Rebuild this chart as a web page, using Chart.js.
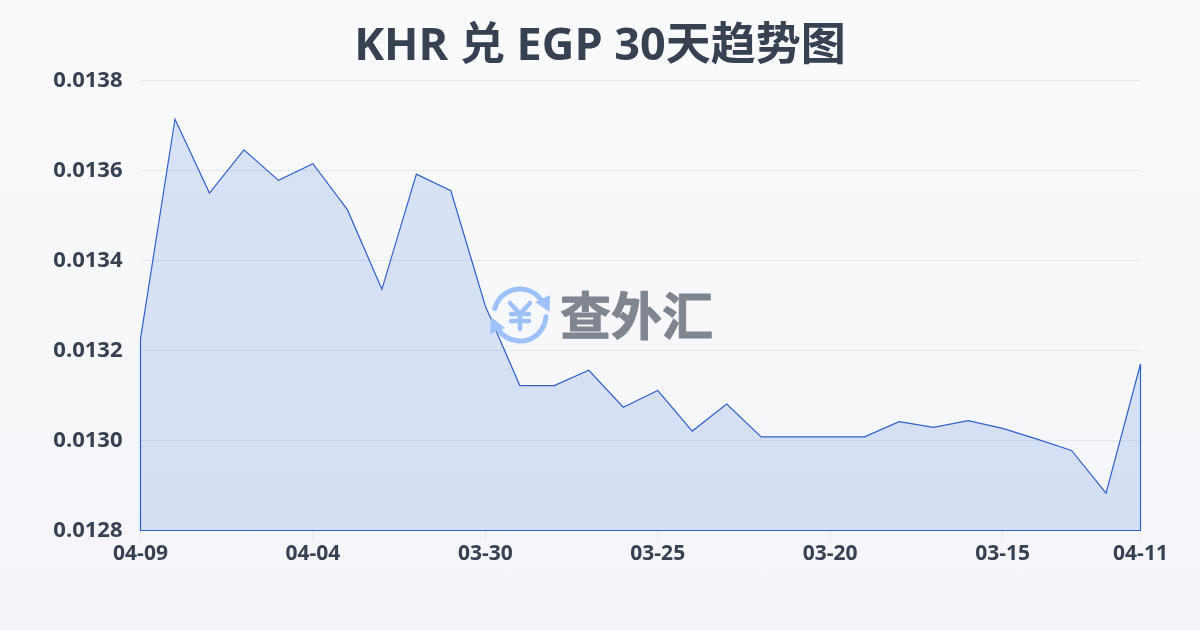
<!DOCTYPE html>
<html><head><meta charset="utf-8">
<script src="https://cdn.jsdelivr.net/npm/chart.js@4"></script>
<style>
html,body{margin:0;padding:0;width:1200px;height:630px;overflow:hidden;background:linear-gradient(180deg,#f9fafc 0%,#f3f5f8 100%);}
canvas{display:block;}
</style></head><body>
<canvas id="c" width="1200" height="630" style="width:1200px;height:630px"></canvas>
<script>
const titleText = 'KHR 兑 EGP 30天趋势图';
const watermarkText = '查外汇';
const dates = ['04-09','04-08','04-07','04-06','04-05','04-04','04-03','04-02','04-01','03-31','03-30','03-29','03-28','03-27','03-26','03-25','03-24','03-23','03-22','03-21','03-20','03-19','03-18','03-17','03-16','03-15','03-14','03-13','03-12','04-11'];
const rates = [0.013226,0.013714,0.01355,0.013646,0.013578,0.013615,0.013513,0.013336,0.013592,0.013555,0.013299,0.013122,0.013122,0.013156,0.013074,0.013111,0.013021,0.013081,0.013008,0.013008,0.013008,0.013008,0.013042,0.013029,0.013044,0.013027,0.013003,0.012978,0.012883,0.01317];
const xTickIndexes = [0,5,10,15,20,25,29];
const yTicks = [0.0128,0.013,0.0132,0.0134,0.0136,0.0138];
const LINE = '#2f62c9';
const TEXT = '#374151';

const outline = {
  id:'outline',
  afterDatasetsDraw(chart){
    const pts = chart.getDatasetMeta(0).data, c = chart.ctx, base = chart.scales.y.getPixelForValue(yTicks[0]);
    c.save();
    c.strokeStyle = LINE; c.lineWidth = 1.2;
    c.beginPath();
    c.moveTo(pts[0].x, pts[0].y);
    c.lineTo(pts[0].x, base);
    c.lineTo(pts[pts.length-1].x, base);
    c.lineTo(pts[pts.length-1].x, pts[pts.length-1].y);
    c.stroke();
    c.restore();
  }
};
const watermark = {
  id:'watermark',
  afterDatasetsDraw(chart){
    const c = chart.ctx, cx = 520, cy = 315, r = 26, blue = '#9dc1fb';
    c.save();
    c.strokeStyle = blue; c.fillStyle = blue; c.lineWidth = 5; c.lineCap = 'round'; c.lineJoin='round';
    c.beginPath(); c.arc(cx, cy, r, Math.PI*1.08, Math.PI*1.82); c.stroke();
    c.beginPath(); c.arc(cx, cy, r, Math.PI*0.02, Math.PI*0.82); c.stroke();
    c.beginPath(); c.moveTo(550,295); c.lineTo(549.5,312); c.lineTo(535,302); c.closePath(); c.fill();
    c.beginPath(); c.moveTo(490,334); c.lineTo(491,317); c.lineTo(505,328); c.closePath(); c.fill();
    c.lineWidth = 4.5;
    c.beginPath();
    c.moveTo(510,303); c.lineTo(520,314); c.lineTo(530,303);
    c.moveTo(520,314); c.lineTo(520,329);
    c.moveTo(511,314); c.lineTo(529,314);
    c.moveTo(511,321); c.lineTo(529,321);
    c.stroke();
    c.fillStyle = '#80858f'; c.strokeStyle = '#80858f'; c.lineWidth = 1;
    c.font = 'bold 51px "Noto Sans CJK SC"';
    c.textBaseline = 'middle'; c.textAlign = 'left';
    c.fillText(watermarkText, 560, 316);
    c.strokeText(watermarkText, 560, 316);
    c.restore();
  }
};

new Chart(document.getElementById('c'), {
  type:'line',
  plugins:[outline, watermark],
  data:{labels:dates, datasets:[{
    data:rates, borderColor:LINE, borderWidth:1.2, pointRadius:0, tension:0,
    fill:'start', backgroundColor:'rgba(55,108,222,0.165)'
  }]},
  options:{
    responsive:false, animation:false, devicePixelRatio:1,
    layout:{padding:0},
    plugins:{
      legend:{display:false}, tooltip:{enabled:false},
      title:{display:true, text:titleText, color:TEXT,
        font:{family:'"Open Sans","Noto Sans CJK SC"', size:45, weight:'bold', lineHeight:1},
        padding:{top:25,bottom:10.5}}
    },
    scales:{
      x:{
        type:'category', offset:false,
        afterBuildTicks(s){ s.ticks = xTickIndexes.map(i=>({value:i})); },
        afterFit(s){ s.height = 99.5; },
        grid:{drawOnChartArea:false, drawTicks:true, tickLength:10, color:'#e5e7eb'},
        border:{display:false},
        ticks:{autoSkip:false, maxRotation:0, minRotation:0, padding:1, color:TEXT,
          font:{family:'"Open Sans"', size:21, weight:'bold'},
          callback(v){ return dates[v]; }}
      },
      y:{
        min:yTicks[0], max:yTicks[yTicks.length-1],
        afterBuildTicks(s){ s.ticks = yTicks.map(v=>({value:v})); },
        afterFit(s){ s.width = 140.5; },
        grid:{drawTicks:false, color:'#e5e7eb', lineWidth:1},
        border:{display:false},
        ticks:{padding:18, color:TEXT,
          font:{family:'"Open Sans"', size:22, weight:'bold'},
          callback(v){ return v.toFixed(4); }}
      },
      rightGutter:{
        position:'right', display:true,
        afterFit(s){ s.width = 59.5; },
        grid:{display:false}, border:{display:false}, ticks:{display:false}
      }
    }
  }
});
</script>
</body></html>
